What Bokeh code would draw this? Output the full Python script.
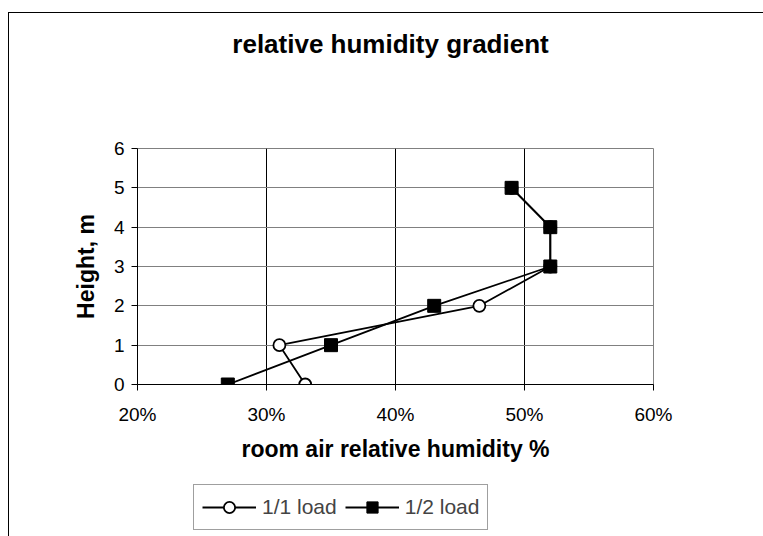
from bokeh.plotting import figure
from bokeh.layouts import column
from bokeh.models import Legend, LegendItem, NumeralTickFormatter, FixedTicker, Range1d, Label
from bokeh.embed import file_html
from bokeh.resources import INLINE

heights = [0, 1, 2, 3, 4, 5]
full_load = [0.33, 0.31, 0.465, 0.52, 0.52, 0.49]
half_load = [0.27, 0.35, 0.43, 0.52, 0.52, 0.49]
x_ticks = [0.2, 0.3, 0.4, 0.5, 0.6]
y_ticks = [0, 1, 2, 3, 4, 5, 6]
series_labels = ["1/1 load", "1/2 load"]
title_text = "relative humidity gradient"

FONT = "Liberation Sans"
W = 754

# title strip
pt = figure(width=W, height=70, output_backend="svg", toolbar_location=None,
            x_axis_type=None, y_axis_type=None, min_border=0,
            x_range=Range1d(0, 1), y_range=Range1d(0, 1))
pt.grid.visible = False
pt.outline_line_color = None
pt.add_layout(Label(x=0.5, y=40, x_units="data", y_units="screen", x_offset=-5,
                    text=title_text, text_font=FONT, text_font_size="26px",
                    text_font_style="bold", text_color="black",
                    text_align="center", text_baseline="alphabetic"))

# main chart
p = figure(width=W, height=382, output_backend="svg", toolbar_location=None,
           x_range=Range1d(0.2, 0.6), y_range=Range1d(0, 6),
           min_border_left=128, min_border_right=110, min_border_top=65, min_border_bottom=81)

p.xgrid.grid_line_color = "black"
p.ygrid.grid_line_color = "#808080"
p.outline_line_color = "#808080"

p.xaxis.ticker = FixedTicker(ticks=x_ticks)
p.yaxis.ticker = FixedTicker(ticks=y_ticks)
p.xaxis.formatter = NumeralTickFormatter(format="0%")
for ax in (p.xaxis, p.yaxis):
    ax.axis_line_color = "black"
    ax.major_tick_line_color = "black"
    ax.major_tick_out = 6
    ax.major_tick_in = 0
    ax.minor_tick_line_color = None
    ax.major_label_text_font = FONT
    ax.major_label_text_font_size = "19px"
    ax.major_label_text_color = "black"
    ax.axis_label_text_font = FONT
    ax.axis_label_text_font_size = "23px"
    ax.axis_label_text_font_style = "bold"
    ax.axis_label_text_color = "black"
p.xaxis.axis_label = "room air relative humidity %"
p.yaxis.axis_label = "Height, m"
p.xaxis.major_label_standoff = 13
p.xaxis.axis_label_standoff = 8
p.yaxis.major_label_standoff = 7
p.yaxis.axis_label_standoff = 12

line_kw = dict(line_color="black", line_width=1.8)
circ_kw = dict(marker="circle", size=12, fill_color="white", line_color="black", line_width=1.8)
sq_kw = dict(marker="square", size=13, fill_color="black", line_color="black")

p.line(full_load, heights, **line_kw)
p.scatter(full_load, heights, **circ_kw)
p.line(half_load, heights, **line_kw)
p.scatter(half_load, heights, **sq_kw)

# legend strip below the chart (same series, kept outside this strip's visible range)
pl = figure(width=W, height=71, output_backend="svg", toolbar_location=None,
            x_axis_type=None, y_axis_type=None, min_border=0,
            x_range=Range1d(5, 6), y_range=Range1d(50, 60))
pl.grid.visible = False
pl.outline_line_color = None
g1 = [pl.line(full_load, heights, **line_kw), pl.scatter(full_load, heights, **circ_kw)]
g2 = [pl.line(half_load, heights, **line_kw), pl.scatter(half_load, heights, **sq_kw)]
legend = Legend(items=[LegendItem(label=series_labels[0], renderers=g1),
                       LegendItem(label=series_labels[1], renderers=g2)],
                orientation="horizontal", location=(56, 6),
                label_text_font=FONT, label_text_font_size="21px",
                glyph_width=54, glyph_height=28, spacing=8, padding=8,
                label_standoff=6, border_line_color="#404040", margin=0)
pl.add_layout(legend, "center")

layout = column(pt, p, pl, spacing=0)
layout.styles = {"border-left": "1px solid black", "border-top": "1px solid black",
                 "margin-left": "8px", "margin-top": "12px"}

open("out.html", "w").write(file_html(layout, INLINE))
